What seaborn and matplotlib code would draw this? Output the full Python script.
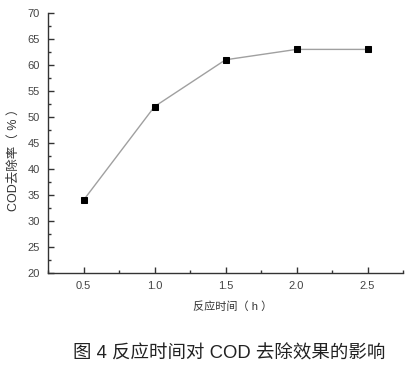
import matplotlib
matplotlib.use("Agg")
import matplotlib.pyplot as plt
import seaborn as sns
import pandas as pd
from matplotlib.ticker import MultipleLocator

time_h = [0.5, 1.0, 1.5, 2.0, 2.5]
cod_removal = [34, 52, 61, 63, 63]

sns.set_style("ticks")
plt.rcParams['font.family'] = ['Liberation Sans', 'Noto Sans CJK SC', 'DejaVu Sans']

df = pd.DataFrame({"t": time_h, "r": cod_removal})

fig = plt.figure(figsize=(4.19, 3.69), dpi=100)
ax = fig.add_axes([48/419, 1-273/369, (403-48)/419, (273-13)/369])
sns.lineplot(data=df, x="t", y="r", ax=ax, color="#a0a0a0", linewidth=1.0,
             marker="s", markersize=5, markerfacecolor="black", markeredgecolor="black")

ax.set_xlim(0.25, 2.75)
ax.set_ylim(20, 70)
ax.set_xticks(time_h)
ax.set_xticklabels([f"{v:.1f}" for v in time_h])
ax.set_yticks(range(20, 71, 5))
ax.xaxis.set_minor_locator(MultipleLocator(0.25))
ax.yaxis.set_minor_locator(MultipleLocator(2.5))
ax.tick_params(axis="both", which="major", direction="in", length=4, width=1,
               labelsize=8, colors="#333333", labelcolor="#444444", pad=6)
ax.tick_params(axis="both", which="minor", direction="in", length=2.5, width=1, colors="#333333")
for s in ["top", "right"]:
    ax.spines[s].set_visible(False)
for s in ["left", "bottom"]:
    ax.spines[s].set_color("#333333")
    ax.spines[s].set_linewidth(1.0)

ax.set_xlabel("反应时间（ h ）", fontsize=8, color="#333333")
ax.set_ylabel("COD去除率（ % ）", fontsize=9, color="#333333")
ax.xaxis.set_label_coords((233-48)/355, -(307-273)/260, transform=ax.transAxes)
ax.xaxis.label.set_va("center")
ax.yaxis.set_label_coords(-(48-14)/355, (273-157)/260, transform=ax.transAxes)
ax.yaxis.label.set_va("center")

fig.text(229/419, 1-354/369, "图 4 反应时间对 COD 去除效果的影响", ha="center", va="center",
         fontsize=13.3, color="#222222")

fig.savefig("out.png", dpi=100)
